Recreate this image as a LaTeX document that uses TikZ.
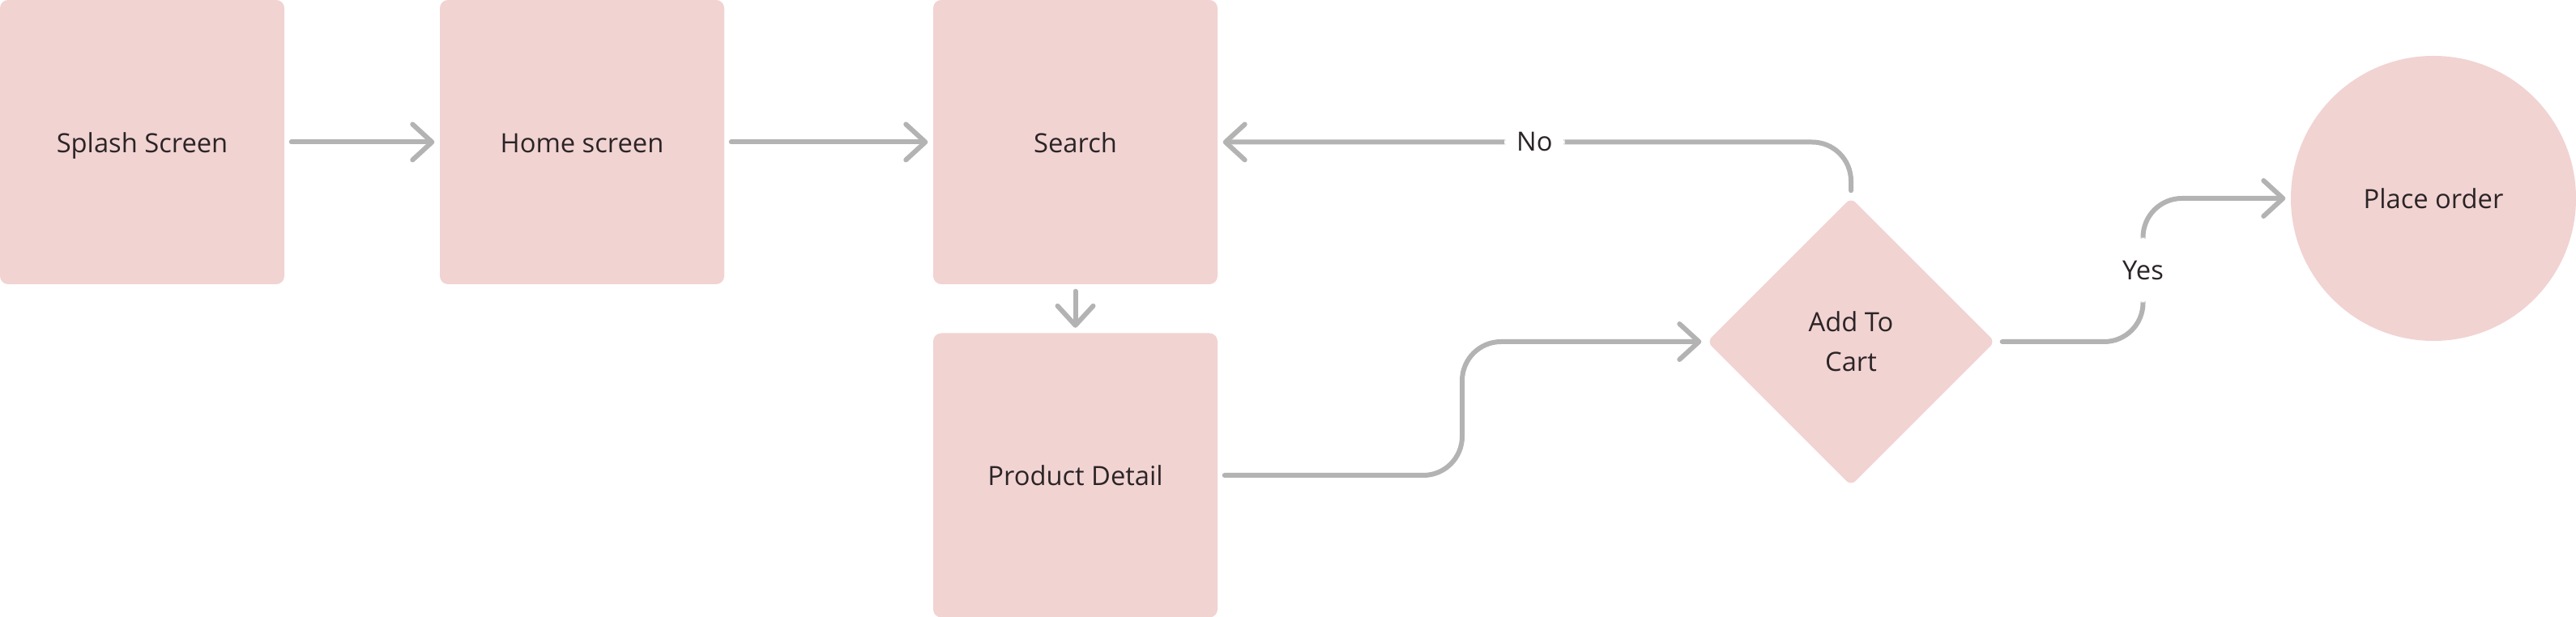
\documentclass[tikz,border=0pt]{standalone}
\usepackage{fontspec}
\setmainfont{Open Sans}
\usetikzlibrary{shapes.geometric, arrows.meta, calc}

\definecolor{boxpink}{HTML}{F1D3D2}
\definecolor{linegray}{HTML}{B3B3B3}
\definecolor{textdark}{HTML}{2B2426}

\begin{document}
\begin{tikzpicture}[
        font=\fontsize{9.3}{14}\selectfont, text=textdark,
        screen/.style={rectangle, fill=boxpink, rounded corners=0.1cm, minimum width=3.51cm, minimum height=3.51cm, inner sep=0, text height=0.72em, text depth=0pt},
        decision/.style={diamond, fill=boxpink, rounded corners=0.08cm, minimum width=3.56cm, minimum height=3.56cm, inner sep=0, align=center},
        finish/.style={circle, fill=boxpink, minimum size=3.52cm, inner sep=0, text height=0.72em, text depth=0pt},
        flow/.style={draw=linegray, line width=0.06cm, line cap=round, rounded corners=0.48cm, -{Straight Barb[round, length=0.24cm, width=0.44cm]}, shorten <=0.08cm, shorten >=0.06cm},
        lbl/.style={fill=white, inner xsep=0.15cm, inner ysep=0.28cm}
    ]
        \useasboundingbox (0,0) rectangle (31.8,7.62);

        % Nodes
        \node[screen] (splash) at (1.755,5.865) {Splash Screen};
        \node[screen] (home) at (7.185,5.865) {Home screen};
        \node[screen] (search) at (13.275,5.865) {Search};
        \node[screen] (detail) at (13.275,1.75) {Product Detail};
        \node[decision] (cart) at (22.85,3.40) {Add To\\Cart};
        \node[finish] (order) at (30.04,5.17) {Place order};

        \coordinate (bendA) at ($(detail.east)!0.5!(cart.west)$);
        \coordinate (bendB) at ($(cart.east)!0.5!(order.west)$);

        % Edges
        \draw[flow] (splash) -- (home);
        \draw[flow] (home) -- (search);
        \draw[flow] (search) -- (detail);
        \draw[flow] (detail.east) -| (bendA |- cart.west) -- (cart.west);
        \draw[flow] (cart.north) |- node[lbl, pos=0.75] {No} (search.east);
        \draw[flow] (cart.east) -| node[lbl, pos=0.75] {Yes} (bendB |- order.west) -- (order.west);
    \end{tikzpicture}
\end{document}
